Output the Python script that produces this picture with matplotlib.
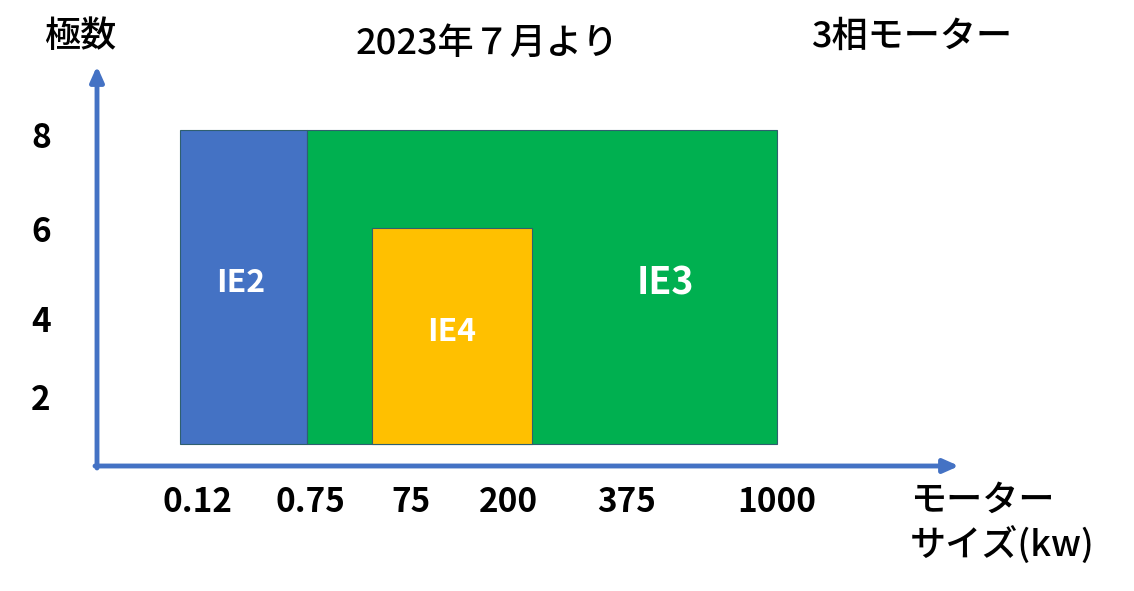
import matplotlib
matplotlib.use('Agg')
import matplotlib.pyplot as plt
from matplotlib.patches import Rectangle

plt.rcParams['font.family'] = ['Noto Sans CJK JP', 'DejaVu Sans']

# motor size ticks (x) and pole ticks (y), positions in diagram units
size_labels = ['0.12', '0.75', '75', '200', '375', '1000']
size_pos = [10.1, 21.3, 31.4, 41.1, 53.0, 68.0]
pole_labels = ['2', '4', '6', '8']
pole_pos = [6.6, 14.4, 23.4, 32.8]

# efficiency class regions: name, x start, x end, y bottom, y top
classes = ['IE2', 'IE3', 'IE4']
x_start = [8.3, 21.0, 27.5]
x_end = [21.0, 68.0, 43.5]
y_bottom = [2.2, 2.2, 2.2]
y_top = [33.6, 33.6, 23.8]
colors = ['#4472C4', '#00B050', '#FFC000']
label_xy = [(14.4, 18.3), (56.8, 18.3), (35.5, 13.4)]
label_size = [23, 27, 23]

fig = plt.figure(figsize=(11.34, 5.91), dpi=100)
ax = fig.add_axes([0, 0, 1, 1])
ax.set_xlim(-9.7, 103.7)
ax.set_ylim(-12.5, 46.6)
ax.axis('off')

for name, x0, x1, y0, y1, c in zip(classes, x_start, x_end, y_bottom, y_top, colors):
    ax.add_patch(Rectangle((x0, y0), x1 - x0, y1 - y0, facecolor=c,
                           edgecolor='#2F5F6F', linewidth=0.8))
for name, (lx, ly), fs in zip(classes, label_xy, label_size):
    ax.text(lx, ly, name, color='white', fontsize=fs, fontweight='bold',
            ha='center', va='center')

# axis arrows
arrow_color = '#4472C4'
ax.annotate('', xy=(86.2, 0), xytext=(-0.2, 0),
            arrowprops=dict(arrowstyle='-|>,head_length=0.9,head_width=0.4',
                            color=arrow_color, lw=3.5, shrinkA=0, shrinkB=0))
ax.annotate('', xy=(0, 40.0), xytext=(0, -0.2),
            arrowprops=dict(arrowstyle='-|>,head_length=0.9,head_width=0.4',
                            color=arrow_color, lw=3.5, shrinkA=0, shrinkB=0))

for lab, x in zip(size_labels, size_pos):
    ax.text(x, -3.6, lab, fontsize=24, fontweight='bold', ha='center', va='center')
for lab, y in zip(pole_labels, pole_pos):
    ax.text(-5.6, y, lab, fontsize=24, fontweight='bold', ha='center', va='center')

ax.text(-1.7, 42.9, '極数', fontsize=26, fontweight='medium', ha='center', va='center')
ax.text(39.0, 42.2, '2023年７月より', fontsize=26, fontweight='medium', ha='center', va='center')
ax.text(81.5, 42.9, '3相モーター', fontsize=26, fontweight='medium', ha='center', va='center')
ax.text(81.3, -5.8, 'モーター\nサイズ(kw)', fontsize=26, fontweight='medium',
        ha='left', va='center', linespacing=1.25)

fig.savefig('out.png', dpi=100)
